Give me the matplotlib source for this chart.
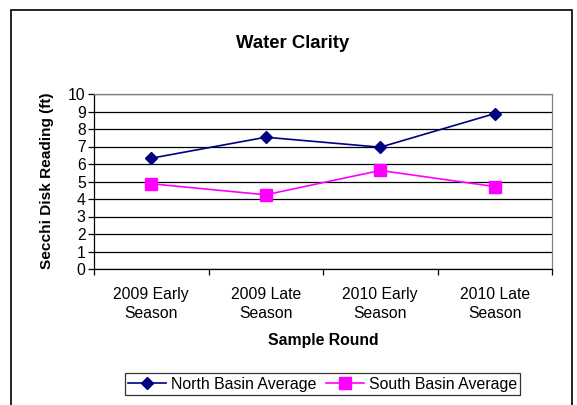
import matplotlib
matplotlib.use("Agg")
import matplotlib.pyplot as plt
from matplotlib.patches import Rectangle

categories = ["2009 Early\nSeason", "2009 Late\nSeason", "2010 Early\nSeason", "2010 Late\nSeason"]
north = [6.33, 7.53, 6.96, 8.88]
south = [4.87, 4.24, 5.63, 4.71]
yticks = list(range(0, 11))

plt.rcParams['font.family'] = ['Liberation Sans', 'DejaVu Sans']

W, H = 577, 405
fig = plt.figure(figsize=(W/100, H/100), dpi=100)
ax = fig.add_axes([94/W, 1-269/H, (552-94)/W, (269-94)/H])

x = list(range(len(categories)))
ax.plot(x, north, color='#000080', marker='D', markersize=6, linewidth=1.2,
        label='North Basin Average')
ax.plot(x, south, color='#FF00FF', marker='s', markersize=8, linewidth=1.2,
        label='South Basin Average')

ax.set_xlim(-0.5, 3.5)
ax.set_ylim(0, 10)
ax.set_yticks(yticks)
ax.yaxis.grid(True, color='black', linewidth=0.9)
ax.set_axisbelow(True)
ax.tick_params(axis='y', direction='out', length=4, width=0.9, labelsize=11.3, pad=2)

ax.set_xticks([-0.5, 0.5, 1.5, 2.5, 3.5])
ax.set_xticklabels([])
ax.set_xticks(x, minor=True)
ax.set_xticklabels(categories, minor=True, fontsize=11.3, linespacing=1.37)
ax.tick_params(axis='x', which='major', direction='out', length=4, width=0.9)
ax.tick_params(axis='x', which='minor', length=0, pad=13)

for s in ['top', 'right']:
    ax.spines[s].set_color('#808080')
    ax.spines[s].set_linewidth(0.9)
for s in ['left', 'bottom']:
    ax.spines[s].set_color('black')
    ax.spines[s].set_linewidth(0.9)

fig.text(292.5/W, 1-43/H, 'Water Clarity', ha='center', va='center', fontsize=13.3, fontweight='bold')
fig.text(323/W, 1-341/H, 'Sample Round', ha='center', va='center', fontsize=11.3, fontweight='bold')
fig.text(47/W, 1-181/H, 'Secchi Disk Reading (ft)', ha='center', va='center', rotation=90,
         fontsize=11.1, fontweight='bold')

leg = fig.legend(loc='center', bbox_to_anchor=(322.5/W, 1-384/H), ncol=2, frameon=True,
                 fancybox=False, edgecolor='black', fontsize=11.4, handlelength=2.4,
                 handletextpad=0.3, columnspacing=0.6, borderpad=0.2, borderaxespad=0)
leg.get_frame().set_linewidth(0.9)

fig.patches.append(Rectangle((11/W, -0.05), (572-11)/W, (H-10)/H + 0.05,
                             transform=fig.transFigure, fill=False, edgecolor='black',
                             linewidth=1.2, clip_on=False))

fig.savefig('out.png', dpi=100)
